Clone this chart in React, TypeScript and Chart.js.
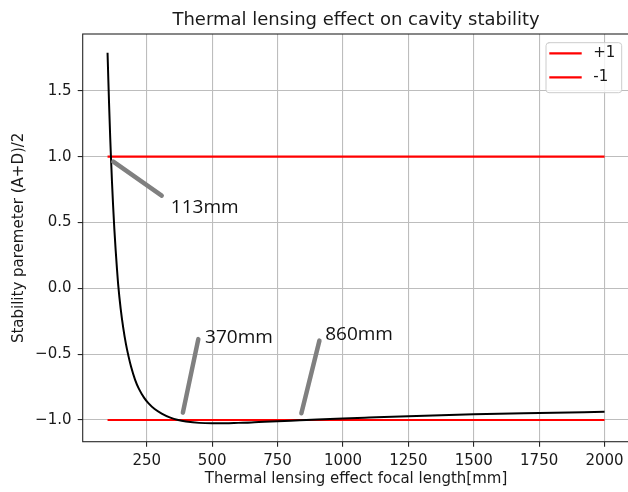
import React, { useEffect, useRef } from "react";
import { Chart, registerables } from "chart.js";
Chart.register(...registerables);

const TITLE = "Thermal lensing effect on cavity stability";
const X_TITLE = "Thermal lensing effect focal length[mm]";
const Y_TITLE = "Stability paremeter (A+D)/2";

// Curve: focal length [mm] -> (A+D)/2
const focalLength = [100, 103, 106, 110, 113, 117, 121, 126, 131, 136, 141, 150, 160, 170, 180, 190, 205, 220, 240, 256, 280, 307, 340, 370, 400, 450, 500, 550, 600, 650, 700, 750, 800, 860, 950, 1000, 1100, 1250, 1500, 1750, 2000];
const stability = [1.79, 1.585, 1.39, 1.154, 1.0, 0.807, 0.637, 0.45, 0.29, 0.148, 0.02, -0.152, -0.3, -0.42, -0.515, -0.596, -0.693, -0.764, -0.832, -0.872, -0.917, -0.951, -0.982, -1.0, -1.011, -1.022, -1.025, -1.025, -1.022, -1.019, -1.014, -1.01, -1.005, -1.0, -0.992, -0.988, -0.981, -0.971, -0.957, -0.947, -0.938];

// Stability bounds
const boundRange = [100, 2000];
const upperBound = [1, 1];
const lowerBound = [-1, -1];
const boundLabels = ["+1", "-1"];

// Axes
const xTicks = [250, 500, 750, 1000, 1250, 1500, 1750, 2000];
const xTickLabels = ["250", "500", "750", "1000", "1250", "1500", "1750", "2000"];
const yTicks = [-1.0, -0.5, 0.0, 0.5, 1.0, 1.5];
const yTickLabels = ["\u22121.0", "\u22120.5", "0.0", "0.5", "1.0", "1.5"];
const xLimits = [5, 2095];
const yLimits = [-1.165, 1.932];

// Annotations (data units)
const noteText = ["113mm", "370mm", "860mm"];
const noteX = [342, 473, 932];
const noteY = [0.572, -0.412, -0.392];
const pointerFromX = [122, 388, 841];
const pointerFromY = [0.962, -0.944, -0.949];
const pointerToX = [307, 447, 910];
const pointerToY = [0.704, -0.386, -0.397];

const overlayPlugin = {
  id: "overlay",
  afterDatasetsDraw(chart: any) {
    const { ctx, chartArea: a, scales } = chart;
    const xs = scales.x;
    const ys = scales.y;
    ctx.save();
    // frame (spines)
    ctx.strokeStyle = "#262626";
    ctx.lineWidth = 1.1;
    ctx.strokeRect(a.left, a.top, a.right - a.left, a.bottom - a.top);

    // gray pointers
    ctx.strokeStyle = "#808080";
    ctx.lineWidth = 4.5;
    ctx.lineCap = "round";
    for (let i = 0; i < noteText.length; i++) {
      ctx.beginPath();
      ctx.moveTo(xs.getPixelForValue(pointerFromX[i]), ys.getPixelForValue(pointerFromY[i]));
      ctx.lineTo(xs.getPixelForValue(pointerToX[i]), ys.getPixelForValue(pointerToY[i]));
      ctx.stroke();
    }
    // annotation text
    ctx.fillStyle = "#111";
    ctx.font = '19px "Open Sans"';
    ctx.textAlign = "left";
    ctx.textBaseline = "alphabetic";
    for (let i = 0; i < noteText.length; i++) {
      ctx.fillText(noteText[i], xs.getPixelForValue(noteX[i]), ys.getPixelForValue(noteY[i]));
    }

    // title
    ctx.fillStyle = "#1a1a1a";
    ctx.font = '18px "DejaVu Sans"';
    ctx.textAlign = "center";
    ctx.fillText(TITLE, (a.left + a.right) / 2, a.top - 9.4);

    // legend
    const bx = a.right - 83.4;
    const by = a.top + 8.7;
    const bw = 75.7;
    const bh = 50;
    ctx.beginPath();
    ctx.roundRect(bx, by, bw, bh, 3);
    ctx.fillStyle = "rgba(255,255,255,0.8)";
    ctx.fill();
    ctx.strokeStyle = "#cccccc";
    ctx.lineWidth = 1;
    ctx.stroke();
    const legendSets = chart.data.datasets.filter((d: any) => d.showInLegend);
    ctx.font = '15px "DejaVu Sans"';
    ctx.textAlign = "left";
    ctx.textBaseline = "middle";
    ctx.lineCap = "butt";
    legendSets.forEach((d: any, i: number) => {
      const ly = by + 10.6 + i * 24;
      ctx.strokeStyle = d.borderColor;
      ctx.lineWidth = d.borderWidth;
      ctx.beginPath();
      ctx.moveTo(bx + 3.3, ly);
      ctx.lineTo(bx + 35.7, ly);
      ctx.stroke();
      ctx.fillStyle = "#1a1a1a";
      ctx.fillText(d.label, bx + 47.3, ly);
    });
    ctx.restore();
  },
};

export default function App() {
  const ref = useRef<HTMLCanvasElement | null>(null);
  useEffect(() => {
    document.body.style.margin = "0";
    document.body.style.overflow = "hidden";
    Chart.defaults.font.family = "'DejaVu Sans'";
    Chart.defaults.color = "#1a1a1a";
    const canvas = ref.current!;
    const chart = new Chart(canvas, {
      type: "line",
      data: {
        datasets: [
          {
            label: "curve",
            data: focalLength.map((f, i) => ({ x: f, y: stability[i] })),
            borderColor: "#000000",
            borderWidth: 2,
            pointRadius: 0,
            cubicInterpolationMode: "monotone",
            fill: false,
          },
          {
            label: boundLabels[0],
            showInLegend: true,
            data: boundRange.map((f, i) => ({ x: f, y: upperBound[i] })),
            borderColor: "#ff0000",
            borderWidth: 2.2,
            pointRadius: 0,
            fill: false,
          },
          {
            label: boundLabels[1],
            showInLegend: true,
            data: boundRange.map((f, i) => ({ x: f, y: lowerBound[i] })),
            borderColor: "#ff0000",
            borderWidth: 2.2,
            pointRadius: 0,
            fill: false,
          },
        ] as any,
      },
      options: {
        responsive: false,
        animation: false,
        devicePixelRatio: 1,
        layout: { padding: { left: 0, top: 34, right: 10.6, bottom: 0 } },
        plugins: {
          legend: { display: false },
          title: { display: false },
          tooltip: { enabled: false },
        },
        scales: {
          x: {
            type: "linear",
            min: xLimits[0],
            max: xLimits[1],
            afterBuildTicks: (s: any) => {
              s.ticks = xTicks.map((v) => ({ value: v }));
            },
            afterFit: (s: any) => {
              s.height = 50.3;
            },
            ticks: {
              autoSkip: false,
              maxRotation: 0,
              padding: 5.1,
              font: { size: 15 },
              color: "#1a1a1a",
              callback: (_v: any, i: number) => xTickLabels[i],
            },
            grid: {
              color: "#bdbdbd",
              lineWidth: 1.1,
              tickColor: "#262626",
              tickLength: 5,
              drawTicks: true,
            },
            border: { display: false },
            title: {
              display: true,
              text: X_TITLE,
              font: { size: 15 },
              color: "#1a1a1a",
              padding: { top: 0, bottom: 3.7 },
            },
          },
          y: {
            type: "linear",
            min: yLimits[0],
            max: yLimits[1],
            afterBuildTicks: (s: any) => {
              s.ticks = yTicks.map((v) => ({ value: v }));
            },
            afterFit: (s: any) => {
              s.width = 82.7;
            },
            ticks: {
              autoSkip: false,
              padding: 6.2,
              font: { size: 15 },
              color: "#1a1a1a",
              callback: (_v: any, i: number) => yTickLabels[i],
            },
            grid: {
              color: "#bdbdbd",
              lineWidth: 1.1,
              tickColor: "#262626",
              tickLength: 5,
              drawTicks: true,
            },
            border: { display: false },
            title: {
              display: true,
              text: Y_TITLE,
              font: { size: 15 },
              color: "#1a1a1a",
              padding: { top: 10.5, bottom: 0 },
            },
          },
        },
      },
      plugins: [overlayPlugin],
    } as any);
    return () => chart.destroy();
  }, []);
  return <canvas ref={ref} width={640} height={492} style={{ display: "block" }} />;
}
